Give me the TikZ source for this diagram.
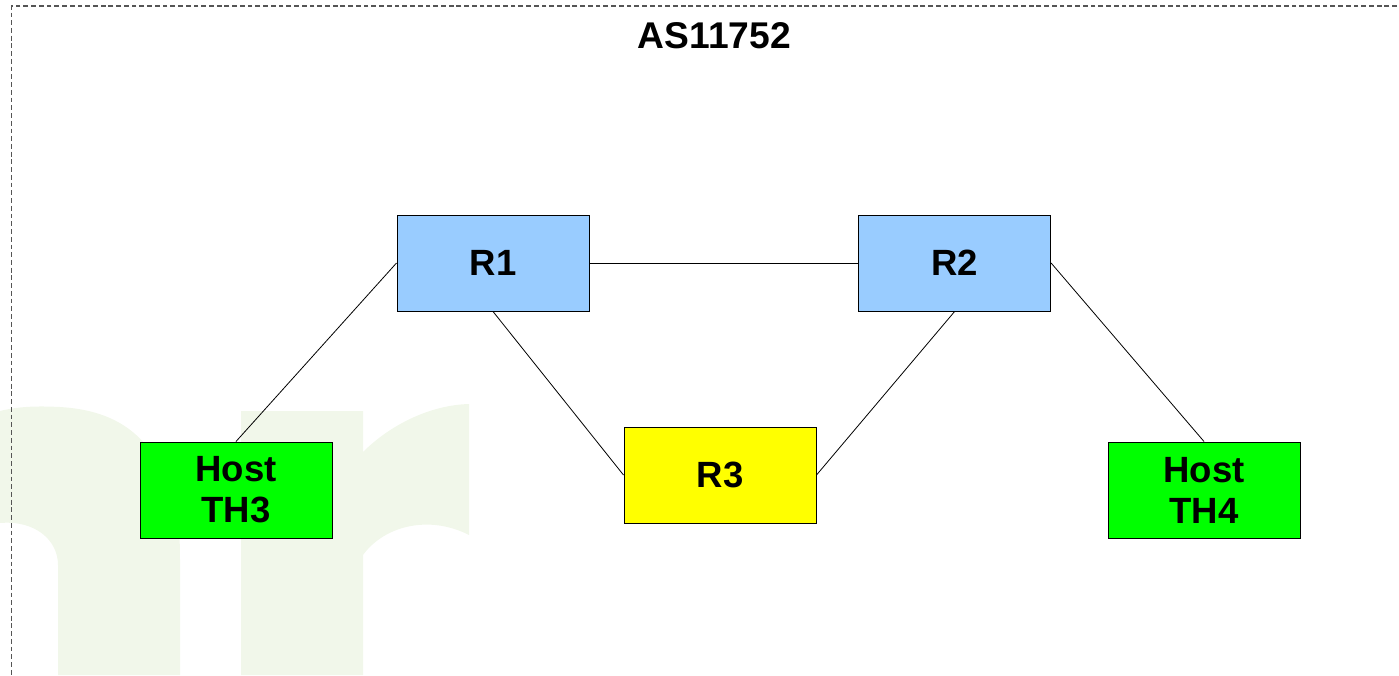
\documentclass[tikz,border=0pt]{standalone}
\usepackage{fontspec}
\setmainfont{Liberation Sans}
\definecolor{wm}{HTML}{F1F7EA}
\definecolor{routerblue}{HTML}{99CCFF}
\definecolor{hostgreen}{HTML}{00FF00}
\definecolor{rthree}{HTML}{FFFF00}
\definecolor{frame}{HTML}{555555}
\tikzset{
  px/.style={x=0.75pt,y=-0.75pt},
  devbox/.style={draw=black,line width=0.75pt,minimum width=144pt,minimum height=72pt,inner sep=0pt,align=center,
    font=\fontsize{27.4}{30.75}\selectfont\bfseries},
  router/.style={devbox,fill=routerblue},
  hostbox/.style={devbox,fill=hostgreen},
  midbox/.style={devbox,fill=rthree},
  link/.style={draw=black,line width=0.6pt},
  zone/.style={draw=frame,line width=1pt,dash pattern=on 3.6pt off 2.2pt},
  titletext/.style={font=\fontsize{27.9}{30}\selectfont\bfseries,inner sep=0pt}
}
\begin{document}
\begin{tikzpicture}[px]
\useasboundingbox (0,0) rectangle (1399,675);
% watermark
\fill[wm] (0,411) .. controls (20,406) and (40,406) .. (60,407)
  .. controls (110,410) and (150,430) .. (170,490)
  .. controls (178,510) and (180,530) .. (180,560)
  -- (180,675) -- (58,675) -- (58,565)
  .. controls (58,540) and (35,520) .. (0,523) -- cycle;
\fill[wm] (241,411) -- (363,411) -- (363,452)
  .. controls (390,425) and (430,405) .. (469,404)
  -- (469,535)
  .. controls (430,515) and (385,525) .. (363,555)
  -- (363,675) -- (241,675) -- cycle;
% zone frame
\coordinate (zoneTR) at (1397,6);
\coordinate (zoneTL) at (11.5,6);
\coordinate (zoneBL) at (11.5,675);
\draw[zone] (zoneTR) -- (zoneTL) -- (zoneBL);
\node[titletext] (title) at (714.5,36) {AS11752};
% nodes
\node[router] (r1) at (493,263) {R1};
\node[router] (r2) at (954.6,263) {R2};
\node[midbox] (r3) at (720,475) {R3};
\node[hostbox] (th3) at (236,490) {Host\\TH3};
\node[hostbox] (th4) at (1204,490) {Host\\TH4};
% links
\draw[link] (r1.east) -- (r2.west);
\draw[link] (r1.west) -- (th3.north);
\draw[link] (r1.south) -- (r3.west);
\draw[link] (r3.east) -- (r2.south);
\draw[link] (r2.east) -- (th4.north);
\end{tikzpicture}
\end{document}
